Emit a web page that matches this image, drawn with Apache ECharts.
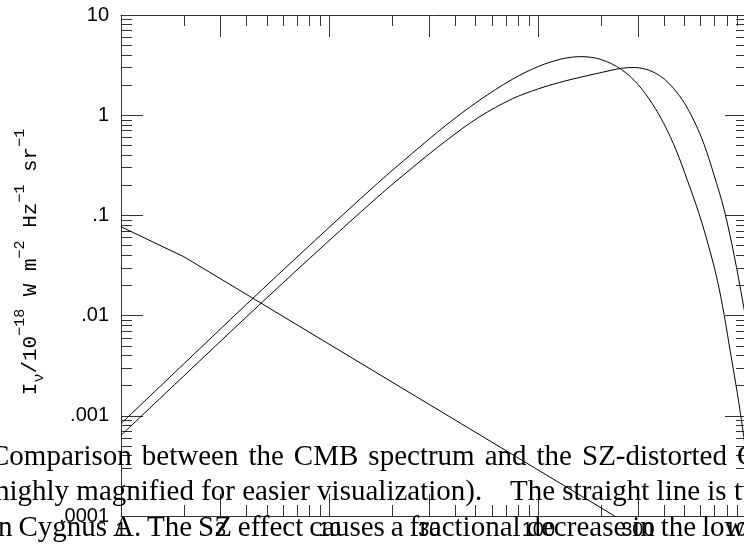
<!DOCTYPE html>
<html><head><meta charset="utf-8">
<script src="https://cdn.jsdelivr.net/npm/echarts@6/dist/echarts.min.js"></script>
<style>html,body{margin:0;padding:0;background:#fff}#c{width:744px;height:548px}</style>
</head><body><div id="c"></div>
<script>
// Frequency in GHz, intensity in units of 1e-18 W m^-2 Hz^-1 sr^-1
const cmbFreq = [1, 2, 4, 8, 17, 25, 36, 52, 75, 100, 130, 160, 200, 250, 300, 350, 400, 456, 518, 589, 658, 721, 776, 836, 898, 950, 1000];
const cmbI = [8.35e-4, 3.3e-3, 0.0130, 0.050, 0.210, 0.42, 0.79, 1.40, 2.28, 3.06, 3.65, 3.84, 3.59, 2.86, 2.03, 1.32, 0.82, 0.455, 0.224, 0.104, 0.0475, 0.0225, 0.0103, 4.1e-3, 1.7e-3, 7.8e-4, 3.7e-4];

const szFreq = [1, 2, 4, 8, 17, 25, 36, 52, 75, 100, 126, 160, 200, 250, 288, 322, 359, 401, 447, 499, 558, 623, 695, 776, 867, 957, 1000];
const szI = [6.38e-4, 2.5e-3, 9.75e-3, 0.0371, 0.153, 0.301, 0.553, 0.958, 1.456, 1.833, 2.121, 2.398, 2.664, 2.94, 2.99, 2.90, 2.67, 2.30, 1.83, 1.34, 0.875, 0.51, 0.253, 0.115, 0.0403, 0.0134, 0.0079];

const cygFreq = [1, 2, 232];
const cygI = [0.077, 0.0387, 0.0001];

const xMajorTicks = [1, 3, 10, 30, 100, 300, 1000];
const xMinorTicks = [2, 4, 5, 6, 7, 8, 9, 20, 40, 50, 60, 70, 80, 90, 200, 400, 500, 600, 700, 800, 900];
const yMajorTicks = [0.0001, 0.001, 0.01, 0.1, 1, 10];
const yTickLabels = ['.0001', '.001', '.01', '.1', '1', '10'];
const yMinorTicks = [
  0.0002,0.0003,0.0004,0.0005,0.0006,0.0007,0.0008,0.0009,
  0.002,0.003,0.004,0.005,0.006,0.007,0.008,0.009,
  0.02,0.03,0.04,0.05,0.06,0.07,0.08,0.09,
  0.2,0.3,0.4,0.5,0.6,0.7,0.8,0.9,
  2,3,4,5,6,7,8,9];

const captionLine1 = 'Comparison between the CMB spectrum and the SZ-distorted C';
const captionLine2a = 'highly magnified for easier visualization).';
const captionLine2b = 'The straight line is t';
const captionLine3 = 'n Cygnus A. The SZ effect causes a fractional decrease in the low';

const chart = echarts.init(document.getElementById('c'), null, {renderer: 'canvas'});

const axisColor = '#333';
function xAx(extra) {
  return Object.assign({type: 'log', logBase: 10, min: 1, max: 1000, gridIndex: 0,
    splitLine: {show: false}, axisLine: {show: false}, axisLabel: {show: false}, axisTick: {show: false}}, extra);
}
function yAx(extra) {
  return Object.assign({type: 'log', logBase: 10, min: 0.0001, max: 10, gridIndex: 0,
    splitLine: {show: false}, axisLine: {show: false}, axisLabel: {show: false}, axisTick: {show: false}}, extra);
}
const lineS = {show: true, lineStyle: {color: axisColor, width: 1}};
function tickS(vals, len) { return {show: true, inside: true, length: len, customValues: vals, lineStyle: {color: axisColor, width: 1}}; }

// caption layout (justified words)
const capFontSize = 29;
const capFont = capFontSize + 'px "Liberation Serif"';
const mctx = document.createElement('canvas').getContext('2d');
function measure(t) { mctx.font = capFont; return mctx.measureText(t).width; }
function layoutWords(text, x0, xLast, baseline) {
  const words = text.split(' ');
  const widths = words.map(measure);
  let gap = measure(' ');
  if (xLast != null && words.length > 1) {
    const sum = widths.slice(0, -1).reduce((a, b) => a + b, 0);
    gap = (xLast - x0 - sum) / (words.length - 1);
  }
  const out = [];
  let x = x0;
  words.forEach((w, i) => {
    out.push({type: 'text', x: x, y: baseline - 0.305 * capFontSize, z: 100, silent: true,
      style: {text: w, font: capFont, fill: '#000', align: 'left', verticalAlign: 'middle'}});
    x += widths[i] + gap;
  });
  return out;
}
const captionEls = [].concat(
  layoutWords(captionLine1, -10, 737, 466),
  layoutWords(captionLine2a, -5, null, 501.5),
  layoutWords(captionLine2b, 510, null, 501.5),
  layoutWords(captionLine3, -2, 702, 537)
);

const yNameEl = {
  type: 'text', x: 30, y: 262, rotation: Math.PI / 2, z: 50, silent: true,
  style: {
    text: '{m|I}{b|ν}{m|/10}{p|−18}{m| W m}{p|−2}{m| Hz}{p|−1}{m| sr}{p|−1}',
    align: 'center', verticalAlign: 'middle', fill: '#000',
    rich: {
      m: {fontSize: 21, fontFamily: 'Liberation Mono', lineHeight: 34, verticalAlign: 'middle', fill: '#000'},
      p: {fontSize: 15, fontFamily: 'Liberation Mono', lineHeight: 15, verticalAlign: 'top', fill: '#000'},
      b: {fontSize: 15, fontFamily: 'Liberation Mono', lineHeight: 22, verticalAlign: 'bottom', fill: '#000'}
    }
  }
};

const pairs = (xs, ys) => xs.map((v, i) => [v, ys[i]]);
const curveStyle = {color: '#000', width: 1};

chart.setOption({
  animation: false,
  backgroundColor: '#fff',
  grid: {left: 121, top: 15, width: 626, height: 501, containLabel: false, outerBoundsMode: 'none'},
  xAxis: [
    xAx({position: 'bottom', axisLine: lineS, axisTick: tickS(xMajorTicks, 22),
      axisLabel: {show: true, customValues: xMajorTicks, margin: 4, fontSize: 20, fontFamily: 'Liberation Sans', color: '#000',
        formatter: v => String(Math.round(v))}}),
    xAx({position: 'bottom', axisTick: tickS(xMinorTicks, 11)}),
    xAx({position: 'top', axisLine: lineS, axisTick: tickS(xMajorTicks, 22)}),
    xAx({position: 'top', axisTick: tickS(xMinorTicks, 11)})
  ],
  yAxis: [
    yAx({position: 'left', axisLine: lineS, axisTick: tickS(yMajorTicks, 22),
      axisLabel: {show: true, customValues: yMajorTicks, margin: 12, fontSize: 20, fontFamily: 'Liberation Sans', color: '#000',
        formatter: v => yTickLabels[Math.round(Math.log10(v)) + 4]}}),
    yAx({position: 'left', axisTick: tickS(yMinorTicks, 11)}),
    yAx({position: 'right', axisLine: lineS, axisTick: tickS(yMajorTicks, 22)}),
    yAx({position: 'right', axisTick: tickS(yMinorTicks, 11)})
  ],
  series: [
    {type: 'line', name: 'CMB', xAxisIndex: 0, yAxisIndex: 0, data: pairs(cmbFreq, cmbI), showSymbol: false, smooth: 0.35, lineStyle: curveStyle, silent: true},
    {type: 'line', name: 'SZ', xAxisIndex: 0, yAxisIndex: 0, data: pairs(szFreq, szI), showSymbol: false, smooth: 0.35, lineStyle: curveStyle, silent: true},
    {type: 'line', name: 'Cygnus A', xAxisIndex: 0, yAxisIndex: 0, data: pairs(cygFreq, cygI), showSymbol: false, smooth: false, lineStyle: curveStyle, silent: true}
  ],
  graphic: {elements: [yNameEl].concat(captionEls)}
});
</script></body></html>
